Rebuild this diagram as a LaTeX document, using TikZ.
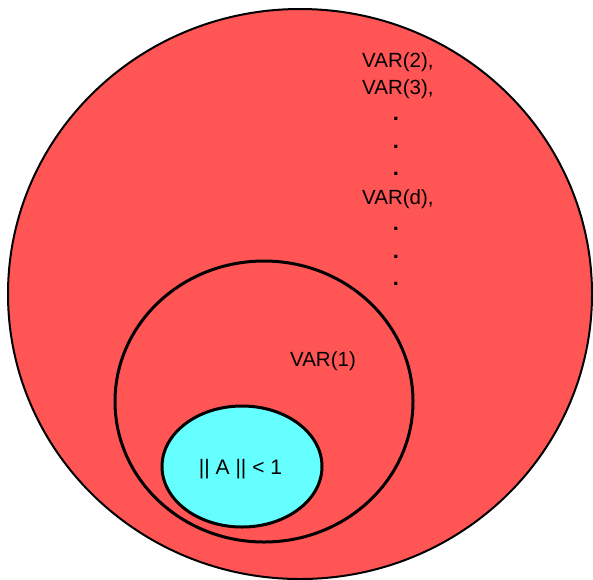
\documentclass[tikz,border=0pt]{standalone}
\usepackage{fontspec}
\setmainfont{Liberation Sans}
\usetikzlibrary{shapes.geometric}
\definecolor{setred}{RGB}{255,85,85}
\definecolor{setcyan}{RGB}{102,255,255}
\tikzset{
  setshape/.style={ellipse, inner sep=0pt, draw=black, line width=#1},
  lbl/.style={font=\fontsize{20.5pt}{24pt}\selectfont, inner sep=0pt},
  dotlbl/.style={font=\fontsize{22pt}{24pt}\selectfont\bfseries, inner sep=0pt, anchor=center}
}
\begin{document}
\begin{tikzpicture}[x=1pt,y=-1pt]
\useasboundingbox (0,0) rectangle (593,579);
\node[setshape=2pt, fill=setred, minimum width=584pt, minimum height=570pt] (outer) at (300,294) {};
\node[setshape=3pt, minimum width=298pt, minimum height=281pt] (var1) at (264,401.5) {};
\node[setshape=3pt, fill=setcyan, minimum width=160pt, minimum height=121pt] (norm) at (242,466.5) {};
\node[lbl, anchor=base west] (v2) at (362,67.5) {VAR(2),};
\node[lbl, anchor=base west] (v3) at (362,94.2) {VAR(3),};
\node[dotlbl] (d1) at (396,119.3) {.};
\node[dotlbl] (d2) at (396,146.7) {.};
\node[dotlbl] (d3) at (396,174) {.};
\node[lbl, anchor=base west] (vd) at (362,204) {VAR(d),};
\node[dotlbl] (d4) at (396,229) {.};
\node[dotlbl] (d5) at (396,257) {.};
\node[dotlbl] (d6) at (396,284) {.};
\node[lbl, anchor=center] (v1lbl) at (323,361) {VAR(1)};
\node[font=\fontsize{21pt}{24pt}\selectfont, inner sep=0pt] (normlbl) at (240.5,469) {|| A || < 1};
\end{tikzpicture}
\end{document}
